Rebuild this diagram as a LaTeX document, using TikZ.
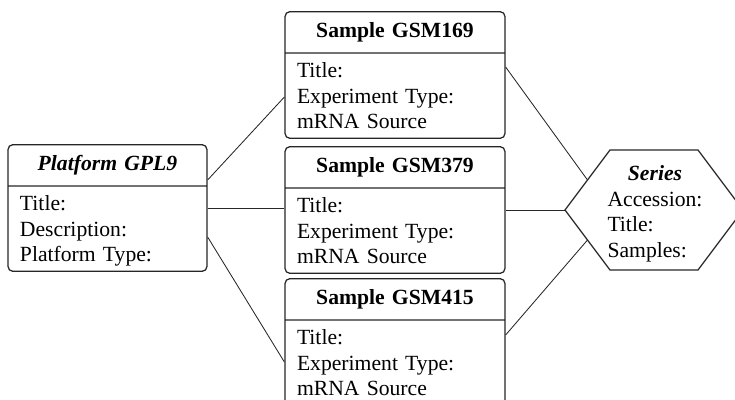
\documentclass[tikz,border=0pt]{standalone}
\usepackage{fontspec}
\setmainfont{Liberation Serif}
\usetikzlibrary{shapes.multipart, calc}

% header and body rows of a record box
\newcommand{\hdr}[1]{\centering\rule[-3.8mm]{0pt}{10mm}#1\par}
\newcommand{\rows}[3]{\rule{0pt}{6mm}#1\\#2\\#3\rule[-2.25mm]{0pt}{2.25mm}}

\begin{document}
\begin{tikzpicture}[
    rec/.style={rectangle split, rectangle split parts=2, draw=black!85,
                line width=0.9pt, rounded corners=3.5pt, inner xsep=0.3cm,
                inner ysep=0pt, align=left, font=\fontsize{15.4}{18.2}\selectfont},
    smp/.style={rec, text width=4.9cm},
    plat/.style={rec, text width=4.375cm},
    hexedge/.style={draw=black!85, line width=0.9pt},
    hexlab/.style={inner sep=0pt, font=\fontsize{15.4}{18.2}\selectfont},
    link/.style={draw=black!85, line width=0.6pt}]

    \useasboundingbox (0,0) rectangle (18.375,-9.975);
    \clip (0,0) rectangle (18.375,-9.975);

    % platform record
    \node[plat] (gpl) at (2.6875,-5.2)
        {\hdr{\textbf{\textit{Platform GPL9}}}
         \nodepart{two}\rows{Title:}{Description:}{Platform Type:}};

    % sample records
    \node[smp] (s169) at (9.875,-1.875)
        {\hdr{\textbf{Sample GSM169}}
         \nodepart{two}\rows{Title:}{Experiment Type:}{mRNA Source}};
    \node[smp] (s379) at (9.875,-5.25)
        {\hdr{\textbf{Sample GSM379}}
         \nodepart{two}\rows{Title:}{Experiment Type:}{mRNA Source}};
    \node[smp] (s415) at (9.875,-8.55)
        {\hdr{\textbf{Sample GSM415}}
         \nodepart{two}\rows{Title:}{Experiment Type:}{mRNA Source}};

    % series hexagon
    \coordinate (hl)  at (14.125,-5.25);
    \coordinate (htl) at (15.25,-3.75);
    \coordinate (htr) at (17.45,-3.75);
    \coordinate (hr)  at (18.575,-5.25);
    \coordinate (hbr) at (17.45,-6.75);
    \coordinate (hbl) at (15.25,-6.75);
    \draw[hexedge] (hl) -- (htl) -- (htr) -- (hr) -- (hbr) -- (hbl) -- cycle;
    \node[hexlab] (ser) at (16.375,-5.35)
        {\begin{tabular}{@{}l@{}}
           \multicolumn{1}{@{}c@{}}{\textbf{\textit{Series}}}\\
           Accession:\\ Title:\\ Samples:
         \end{tabular}};

    % platform to samples
    \draw[link] ($(gpl.east)+(0,0.7)$) -- ($(s169.west)+(0,-0.55)$);
    \draw[link] (gpl.east) -- (gpl.east -| s379.west);
    \draw[link] ($(gpl.east)+(0,-0.725)$) -- ($(s415.west)+(0,-0.5)$);

    % samples to series
    \draw[link] ($(s169.east)+(0,0.2)$) -- ($(hl)!0.5!(htl)$);
    \draw[link] (s379.east) -- (hl);
    \draw[link] ($(s415.east)+(0,0.175)$) -- ($(hl)!0.5!(hbl)$);
\end{tikzpicture}
\end{document}
